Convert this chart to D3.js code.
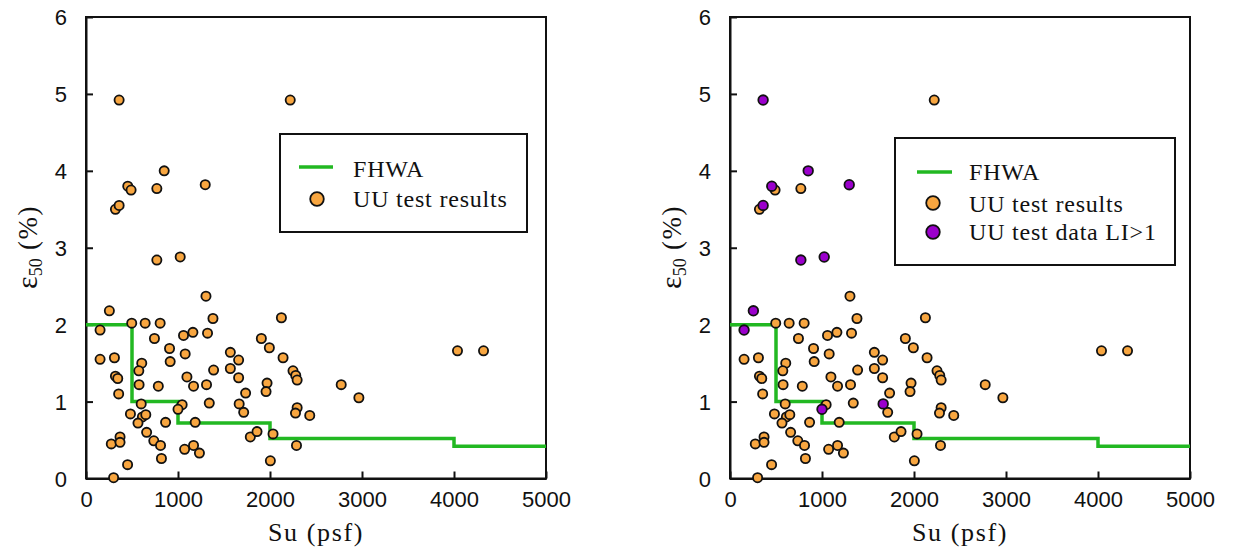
<!DOCTYPE html>
<html>
<head>
<meta charset="utf-8">
<script src="https://cdn.jsdelivr.net/npm/d3@7/dist/d3.min.js"></script>
<style>
  html, body { margin: 0; padding: 0; background: #fff; }
  svg { display: block; }
</style>
</head>
<body>
<svg id="chart" width="1233" height="554"></svg>
<script>
// ---- DATA ----
const suValues = [360,2220,850,454,490,770,1296,320,360,770,1024,1304,254,153,497,643,806,1380,2124,744,
  1060,1162,1321,1906,1993,2142,908,1078,153,309,606,574,915,1569,1659,1569,1659,1387,320,345,
  1097,355,577,786,1169,1310,1735,1968,1957,600,1045,1000,1340,1665,1714,483,613,650,565,865,
  1187,659,737,810,275,370,370,1072,1169,1233,820,452,300,2004,2288,1786,1859,2033,2295,2277,
  2432,2250,2280,2295,4038,4321,2774,2966];
const e50Values = [4.92,4.92,4.00,3.80,3.75,3.77,3.82,3.50,3.55,2.84,2.88,2.37,2.18,1.93,2.02,2.02,2.02,2.08,2.09,1.82,
  1.86,1.90,1.89,1.82,1.70,1.57,1.69,1.62,1.55,1.57,1.50,1.40,1.52,1.64,1.54,1.43,1.31,1.41,1.33,1.30,
  1.32,1.10,1.22,1.20,1.20,1.22,1.11,1.24,1.13,0.97,0.96,0.90,0.98,0.97,0.86,0.84,0.80,0.83,0.72,0.73,
  0.73,0.60,0.49,0.43,0.45,0.54,0.47,0.38,0.43,0.33,0.26,0.18,0.01,0.23,0.43,0.54,0.61,0.58,0.92,0.85,
  0.82,1.40,1.34,1.28,1.66,1.66,1.22,1.05];
// 1 = liquidity index > 1
const liFlags = [1,0,1,1,0,0,1,0,1,1,1,0,1,1,0,0,0,0,0,0,
  0,0,0,0,0,0,0,0,0,0,0,0,0,0,0,0,0,0,0,0,
  0,0,0,0,0,0,0,0,0,0,0,1,0,1,0,0,0,0,0,0,
  0,0,0,0,0,0,0,0,0,0,0,0,0,0,0,0,0,0,0,0,
  0,0,0,0,0,0,0,0];
const fhwaSu = [0, 500, 1000, 2000, 4000, 5000];
const fhwaE50 = [2.0, 1.0, 0.72, 0.52, 0.42, 0.42];
const xTicks = [0, 1000, 2000, 3000, 4000, 5000];
const yTicks = [0, 1, 2, 3, 4, 5, 6];

const points = suValues.map((s, i) => ({ su: s, e: e50Values[i], li: liFlags[i] }));
const fhwa = fhwaSu.map((s, i) => ({ su: s, e: fhwaE50[i] }));

const ORANGE = "#f8a640", PURPLE = "#9b00cc", GREEN = "#22b822";
const svg = d3.select("#chart");

function panel(x0, x1, withLI, legend) {
  const x = d3.scaleLinear().domain([0, 5000]).range([x0, x1]);
  const y = d3.scaleLinear().domain([0, 6]).range([478.5, 17]);
  const g = svg.append("g");

  // frame
  g.append("rect").attr("x", x0).attr("y", y(6)).attr("width", x1 - x0).attr("height", y(0) - y(6))
    .attr("fill", "none").attr("stroke", "#111").attr("stroke-width", 2);

  // x axis
  const xa = g.append("g").attr("transform", `translate(0,${y(0)})`)
    .call(d3.axisBottom(x).tickValues(xTicks).tickSize(-7).tickSizeOuter(0).tickFormat(d3.format("d")));
  xa.select(".domain").attr("stroke", "#111").attr("stroke-width", 2);
  xa.selectAll(".tick line").attr("stroke", "#111").attr("stroke-width", 2);
  xa.selectAll(".tick text").attr("y", 28.5).attr("dy", 0)
    .attr("font-family", "Liberation Sans, Arial, sans-serif").attr("font-size", 22).attr("fill", "#111");

  // y axis
  const ya = g.append("g").attr("transform", `translate(${x0},0)`)
    .call(d3.axisLeft(y).tickValues(yTicks).tickSize(-7).tickSizeOuter(0).tickFormat(d3.format("d")));
  ya.select(".domain").attr("stroke", "#111").attr("stroke-width", 2);
  ya.selectAll(".tick line").attr("stroke", "#111").attr("stroke-width", 2);
  ya.selectAll(".tick text").attr("x", -19).attr("dy", "0.36em")
    .attr("font-family", "Liberation Sans, Arial, sans-serif").attr("font-size", 22).attr("fill", "#111");

  // FHWA step line
  const line = d3.line().x(d => x(d.su)).y(d => y(d.e)).curve(d3.curveStepAfter);
  g.append("path").datum(fhwa).attr("d", line).attr("fill", "none")
    .attr("stroke", GREEN).attr("stroke-width", 3.5);

  // points
  const base = withLI ? points.filter(p => !p.li) : points;
  g.append("g").selectAll("circle").data(base).join("circle")
    .attr("cx", d => x(d.su)).attr("cy", d => y(d.e)).attr("r", 4.6)
    .attr("fill", ORANGE).attr("stroke", "#111").attr("stroke-width", 1.8);
  if (withLI) {
    g.append("g").selectAll("circle").data(points.filter(p => p.li)).join("circle")
      .attr("cx", d => x(d.su)).attr("cy", d => y(d.e)).attr("r", 4.8)
      .attr("fill", PURPLE).attr("stroke", "#111").attr("stroke-width", 1.8);
  }

  // axis titles
  g.append("text").attr("x", (x0 + x1) / 2).attr("y", 541).attr("text-anchor", "middle")
    .attr("font-family", "Liberation Serif, Times New Roman, serif").attr("font-size", 26)
    .attr("letter-spacing", 1.6).attr("fill", "#111").text("Su (psf)");

  const yl = g.append("text").attr("transform", `translate(${x0 - 49},247) rotate(-90)`)
    .attr("text-anchor", "middle").attr("font-family", "Liberation Serif, Times New Roman, serif")
    .attr("fill", "#111");
  yl.append("tspan").attr("font-size", 30).text("ε");
  yl.append("tspan").attr("font-size", 18).attr("dy", 5).text("50");
  yl.append("tspan").attr("font-size", 27).attr("dy", -5).attr("letter-spacing", 1.5).text(" (%)");

  // legend
  const L = legend;
  g.append("rect").attr("x", L.x).attr("y", L.y).attr("width", L.w).attr("height", L.h)
    .attr("fill", "#fff").attr("stroke", "#111").attr("stroke-width", 2);
  L.items.forEach(it => {
    if (it.type === "line") {
      g.append("line").attr("x1", L.lx1).attr("x2", L.lx2).attr("y1", it.my).attr("y2", it.my)
        .attr("stroke", GREEN).attr("stroke-width", 3.5);
    } else {
      g.append("circle").attr("cx", L.mx).attr("cy", it.my).attr("r", 6.8)
        .attr("fill", it.color).attr("stroke", "#111").attr("stroke-width", 1.8);
    }
    g.append("text").attr("x", L.tx).attr("y", it.ty)
      .attr("font-family", "Liberation Serif, Times New Roman, serif").attr("font-size", 24)
      .attr("letter-spacing", 0.8).attr("fill", "#111").text(it.label);
  });
}

panel(86, 546, false, {
  x: 280, y: 134, w: 247, h: 98, lx1: 299, lx2: 333, mx: 317, tx: 353,
  items: [
    { type: "line", my: 167, ty: 177, label: "FHWA" },
    { type: "marker", my: 199, ty: 206.5, label: "UU test results", color: ORANGE }
  ]
});
panel(730, 1190, true, {
  x: 895, y: 138, w: 280, h: 127, lx1: 917, lx2: 952, mx: 933, tx: 969,
  items: [
    { type: "line", my: 172, ty: 180, label: "FHWA" },
    { type: "marker", my: 203, ty: 211.5, label: "UU test results", color: ORANGE },
    { type: "marker", my: 232, ty: 239.5, label: "UU test data LI>1", color: PURPLE }
  ]
});
</script>
</body>
</html>
